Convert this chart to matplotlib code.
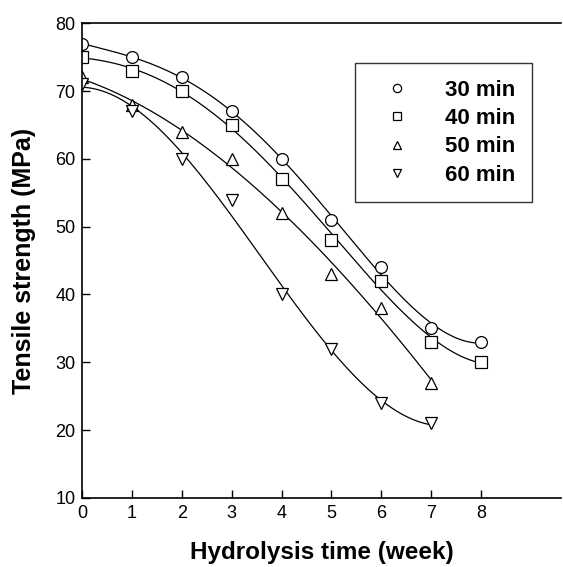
import numpy as np
import matplotlib.pyplot as plt

plt.rcParams['font.family'] = ['Liberation Sans', 'DejaVu Sans']

# Datos
weeks_long = [0, 1, 2, 3, 4, 5, 6, 7, 8]
weeks_short = [0, 1, 2, 3, 4, 5, 6, 7]
ts_30 = [77, 75, 72, 67, 60, 51, 44, 35, 33]
ts_40 = [75, 73, 70, 65, 57, 48, 42, 33, 30]
ts_50 = [72, 68, 64, 60, 52, 43, 38, 27]
ts_60 = [71, 67, 60, 54, 40, 32, 24, 21]
labels = ['30 min', '40 min', '50 min', '60 min']
markers = ['o', 's', '^', 'v']
fit_deg = [4, 4, 3, 3]

series = [(weeks_long, ts_30), (weeks_long, ts_40), (weeks_short, ts_50), (weeks_short, ts_60)]

fig = plt.figure(figsize=(5.63, 5.67), dpi=100)
ax = fig.add_axes([0.146, 0.122, 0.85, 0.837])

for (x, y), m, lab, d in zip(series, markers, labels, fit_deg):
    x = np.array(x, dtype=float)
    y = np.array(y, dtype=float)
    # Ajuste polinomial suave
    coef = np.polyfit(x, y, d)
    xs = np.linspace(x.min(), x.max(), 200)
    ax.plot(xs, np.polyval(coef, xs), color='black', lw=0.9)
    ax.plot(x, y, linestyle='none', marker=m, markersize=8.5, markerfacecolor='white',
            markeredgecolor='black', markeredgewidth=0.9, label=lab)

ax.set_xlim(0, 9.6)
ax.set_ylim(10, 80)
ax.set_xticks(range(0, 9))
ax.set_yticks(range(10, 81, 10))
ax.tick_params(direction='in', length=6, width=1, labelsize=13, pad=5)
ax.spines['right'].set_visible(False)
for s in ['left', 'bottom', 'top']:
    ax.spines[s].set_linewidth(1.2)

ax.set_xlabel('Hydrolysis time (week)', fontsize=17.5, fontweight='bold', labelpad=14)
ax.set_ylabel('Tensile strength (MPa)', fontsize=18, fontweight='bold', labelpad=14)

leg = ax.legend(loc='upper right', bbox_to_anchor=(0.94, 0.916), borderaxespad=0,
                frameon=True, fancybox=False, edgecolor='black',
                prop={'weight': 'bold', 'size': 16}, handletextpad=1.0, handlelength=2.3,
                borderpad=0.75, labelspacing=0.33, markerscale=0.7)
leg.get_frame().set_linewidth(1.0)

plt.savefig('out.png', dpi=100)
